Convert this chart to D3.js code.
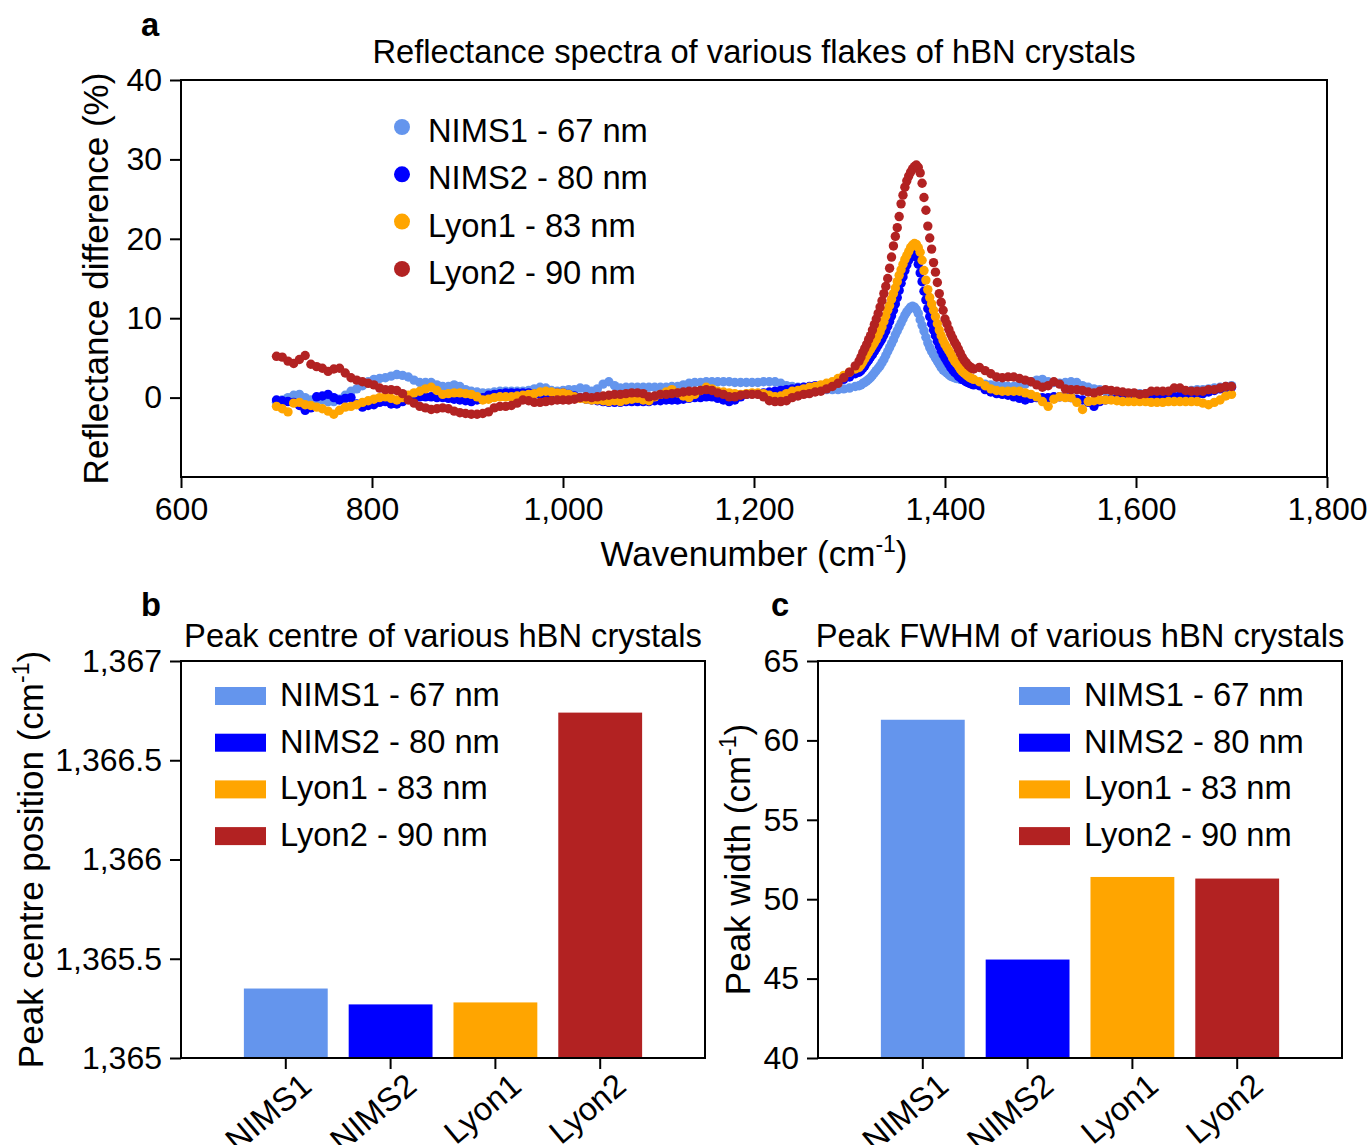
<!DOCTYPE html>
<html><head><meta charset="utf-8">
<script src="https://cdn.jsdelivr.net/npm/d3@7"></script>
<style>
body{margin:0;background:#fff}
svg{display:block}
</style></head><body>
<svg id="chart" width="1370" height="1145"></svg>
<script>
// ---------------- data ----------------
const sampleNames = ["NIMS1", "NIMS2", "Lyon1", "Lyon2"];
const legendLabels = ["NIMS1 - 67 nm", "NIMS2 - 80 nm", "Lyon1 - 83 nm", "Lyon2 - 90 nm"];
const sampleColors = ["#6495ED", "#0000FF", "#FFA500", "#B22222"];
const peakCentre = [1365.35, 1365.27, 1365.28, 1366.74];
const peakFwhm = [61.3, 46.2, 51.4, 51.3];
const spectrumXTicks = [600, 800, 1000, 1200, 1400, 1600, 1800];
const spectrumYTicks = [0, 10, 20, 30, 40];
const centreTicks = [1365, 1365.5, 1366, 1366.5, 1367];
const fwhmTicks = [40, 45, 50, 55, 60, 65];

// sampling grid of the spectra (cm^-1): 700-1306 every 6, 1310-1430 every 2, 1436-1700 every 6
const wavenumbers = [...d3.range(700, 1307, 6), ...d3.range(1310, 1431, 2), ...d3.range(1436, 1701, 6)];

// reflectance difference (%)
const nims1Base = [
-0.6,-0.3,0.0,0.3,0.4,0.0,-0.3,-0.2,-0.3,-0.5,
-0.5,-0.2,0.3,0.8,1.1,1.5,2.0,2.3,2.4,2.5,
2.7,2.9,2.8,2.6,2.2,1.9,1.9,1.9,1.6,1.4,
1.4,1.6,1.4,1.0,0.8,0.7,0.6,0.6,0.7,0.8,
0.8,0.8,0.8,0.8,0.9,1.1,1.3,1.2,0.9,0.8,
0.9,1.0,1.0,1.2,1.1,0.8,1.1,1.7,2.0,1.5,
1.2,1.3,1.3,1.3,1.3,1.3,1.3,1.3,1.3,1.4,
1.4,1.6,1.8,1.9,1.9,2.0,2.0,2.0,2.0,2.0,
1.9,1.9,1.9,1.9,1.9,2.0,2.0,2.0,1.8,1.5,
1.4,1.3,1.3,1.2,1.1,1.0,1.0,1.0,1.0,1.1,
1.2,1.4];
const nims1Peak = [
1.5,1.6,1.8,1.9,2.1,2.3,2.5,2.8,3.1,3.4,
3.7,4.0,4.4,4.8,5.3,5.8,6.3,6.8,7.3,7.9,
8.4,8.9,9.4,9.9,10.4,10.8,11.1,11.4,11.5,11.4,
11.1,10.6,9.8,9.1,8.4,7.6,6.9,6.3,5.8,5.4,
5.0,4.6,4.2,3.8,3.5,3.3,3.1,2.9,2.7,2.6,
2.5,2.4,2.4,2.3,2.3,2.2,2.1,2.0,2.0,1.9,
1.9];
const nims1Tail = [
1.8,1.7,1.6,1.5,1.5,1.4,1.4,1.5,1.7,2.0,
2.2,2.3,2.0,1.9,1.8,1.9,2.0,1.9,1.5,1.3,
1.1,1.0,0.8,0.7,0.6,0.6,0.5,0.5,0.5,0.5,
0.6,0.6,0.6,0.7,0.7,0.7,0.8,0.9,1.0,1.0,
1.1,1.2,1.3,1.4,1.5];

const nims2Base = [
-0.3,-0.4,-0.5,-0.6,-1.0,-1.6,-1.3,0.1,0.2,0.4,
0.0,-0.3,-0.1,0.0,-0.8,-1.2,-1.0,-0.9,-0.6,-0.5,
-0.8,-0.8,-0.5,-0.1,0.0,0.1,0.1,0.1,0.0,0.0,
-0.1,-0.2,-0.3,-0.4,-0.5,-0.3,0.0,0.3,0.4,0.5,
0.6,0.6,0.6,0.6,0.6,0.5,0.4,0.4,0.5,0.6,
0.6,0.4,0.2,0.0,-0.2,-0.3,-0.4,-0.5,-0.6,-0.6,
-0.6,-0.5,-0.5,-0.5,-0.5,-0.5,-0.4,-0.4,-0.3,-0.3,
-0.3,-0.2,-0.1,0.0,0.0,0.1,0.1,-0.1,-0.3,-0.5,
-0.3,0.1,0.4,0.5,0.5,0.6,0.7,0.8,0.9,1.0,
1.1,1.2,1.3,1.4,1.5,1.5,1.6,1.8,2.0,2.3,
2.6,3.0];
const nims2Peak = [
3.2,3.4,3.7,4.0,4.4,4.7,5.1,5.4,5.8,6.2,
6.6,7.0,7.4,7.9,8.4,9.0,9.6,10.3,11.0,11.8,
12.6,13.5,14.4,15.2,16.0,16.7,17.3,17.8,18.1,18.2,
17.7,16.8,15.7,14.6,13.4,12.3,11.2,10.2,9.3,8.5,
7.8,7.1,6.5,5.9,5.4,5.0,4.6,4.2,3.8,3.5,
3.2,3.0,2.7,2.5,2.3,2.2,2.0,1.9,1.8,1.7,
1.6];
const nims2Tail = [
1.5,1.0,0.7,0.5,0.4,0.3,0.1,-0.1,-0.3,-0.1,
0.0,0.0,0.0,0.1,0.1,0.1,0.0,-0.2,-0.3,-0.6,
-1.1,-0.5,-0.3,-0.2,-0.1,0.0,0.0,0.1,0.1,0.1,
0.1,0.1,0.1,0.1,0.1,0.2,0.2,0.3,0.4,0.5,
0.7,0.9,1.1,1.2,1.3];

const lyon1Base = [
-1.1,-1.4,-1.8,-0.7,-0.6,-0.9,-1.0,-1.2,-1.4,-1.7,
-2.1,-1.6,-1.2,-1.1,-0.9,-0.6,-0.4,-0.2,0.0,0.1,
-0.1,-0.3,0.0,0.3,0.6,0.8,1.1,1.3,0.9,0.4,
0.5,0.6,0.6,0.5,0.4,0.1,-0.3,-0.2,0.0,0.1,
0.1,0.1,0.2,0.3,0.4,0.5,0.7,0.8,0.7,0.6,
0.6,0.4,0.1,-0.1,-0.2,-0.3,-0.3,-0.4,-0.5,-0.4,
-0.5,-0.3,-0.2,-0.1,-0.3,-0.4,0.1,0.4,0.7,1.0,
0.6,0.2,0.0,0.4,0.9,1.3,1.1,0.8,0.7,0.6,
0.5,0.4,0.5,0.6,0.6,0.5,0.3,0.1,0.2,0.5,
0.8,0.9,1.1,1.3,1.4,1.6,1.8,2.0,2.4,2.8,
3.2,3.6];
const lyon1Peak = [
3.8,4.1,4.5,4.9,5.3,5.7,6.1,6.5,6.9,7.3,
7.8,8.3,8.9,9.6,10.3,11.0,11.6,12.4,13.1,13.8,
14.6,15.4,16.1,16.8,17.4,17.9,18.4,18.9,19.2,19.4,
19.3,18.9,18.3,17.3,16.0,14.8,13.6,12.6,11.8,11.0,
10.2,9.3,8.5,7.8,7.2,6.7,6.3,5.9,5.5,5.0,
4.6,4.3,4.0,3.6,3.3,3.1,2.9,2.7,2.5,2.4,
2.3];
const lyon1Tail = [
2.0,1.5,1.1,0.9,0.8,0.8,0.8,0.8,0.6,0.4,
0.1,-0.5,-1.1,-0.2,0.1,0.0,0.0,-0.6,-1.5,-0.5,
-0.4,-0.3,-0.3,-0.3,-0.4,-0.5,-0.5,-0.5,-0.5,-0.5,
-0.6,-0.6,-0.6,-0.5,-0.5,-0.5,-0.5,-0.5,-0.5,-0.7,
-0.9,-0.6,-0.3,0.2,0.4];

const lyon2Base = [
5.2,5.1,4.6,4.3,4.8,5.3,4.2,3.9,3.7,3.3,
3.6,3.7,3.1,2.5,2.2,2.0,1.8,1.6,1.2,1.0,
1.0,0.9,0.5,-0.3,-0.7,-1.1,-1.3,-1.5,-1.4,-1.3,
-1.4,-1.7,-1.9,-2.0,-2.1,-2.1,-2.0,-1.8,-1.3,-1.1,
-1.1,-1.0,-0.7,-0.3,-0.4,-0.6,-0.6,-0.5,-0.4,-0.3,
-0.3,-0.3,-0.2,0.0,0.1,0.0,0.1,0.2,0.3,0.4,
0.4,0.5,0.6,0.6,0.5,0.1,0.2,0.4,0.4,0.5,
0.6,0.7,0.8,0.8,0.9,1.0,0.9,0.6,0.4,0.1,
0.1,0.3,0.4,0.4,0.4,0.1,-0.4,-0.5,-0.5,-0.4,
0.0,0.2,0.4,0.5,0.7,0.8,1.1,1.4,1.8,2.5,
3.2,4.0];
const lyon2Peak = [
4.6,5.1,5.7,6.2,6.7,7.3,7.8,8.5,9.2,9.9,
10.6,11.4,12.2,13.1,14.0,15.0,16.3,17.7,19.1,20.3,
21.4,22.8,24.4,25.5,26.5,27.3,27.9,28.4,28.8,29.1,
29.3,29.0,28.3,27.0,25.2,23.6,21.6,20.1,18.7,17.0,
15.8,14.5,13.1,12.0,11.0,9.9,9.3,8.6,8.0,7.5,
7.0,6.6,6.1,5.6,5.1,4.7,4.4,4.1,3.9,3.7,
3.6];
const lyon2Tail = [
3.8,3.4,3.0,2.6,2.5,2.6,2.6,2.4,2.2,2.0,
1.6,1.3,1.5,2.0,1.7,1.1,1.0,1.0,0.9,0.7,
0.6,0.8,1.0,0.9,0.8,0.7,0.6,0.6,0.4,0.5,
0.8,0.8,0.8,0.8,1.2,1.2,0.9,0.8,0.8,0.8,
1.0,1.0,1.2,1.4,1.4];

const spectraValues = [
  [...nims1Base, ...nims1Peak, ...nims1Tail],
  [...nims2Base, ...nims2Peak, ...nims2Tail],
  [...lyon1Base, ...lyon1Peak, ...lyon1Tail],
  [...lyon2Base, ...lyon2Peak, ...lyon2Tail]
];

// ---------------- drawing ----------------
const FAMILY = "'Liberation Sans', Arial, Helvetica, sans-serif";
const FS = 32;      // tick labels
const FS_T = 32.7;  // titles and legends
const FS_L = 35;    // axis titles
const svg = d3.select("#chart").attr("font-family", FAMILY);

function frame(x0, y0, x1, y1) {
  svg.append("rect").attr("x", x0).attr("y", y0).attr("width", x1 - x0).attr("height", y1 - y0)
    .attr("fill", "none").attr("stroke", "#000").attr("stroke-width", 2);
}
function styleAxis(g) {
  g.attr("font-family", FAMILY).attr("font-size", FS);
  g.select(".domain").remove();
  g.selectAll(".tick line").attr("stroke", "#000").attr("stroke-width", 2);
  g.selectAll(".tick text").attr("fill", "#000");
}
function text(x, y, str, opts = {}) {
  return svg.append("text").attr("x", x).attr("y", y).attr("font-size", opts.size || FS_T)
    .attr("font-weight", opts.weight || "normal").attr("text-anchor", opts.anchor || "middle")
    .attr("fill", "#000").text(str);
}
function supLabel(tx, ty, rot, pre) {
  const t = svg.append("text").attr("transform", `translate(${tx},${ty}) rotate(${rot})`)
    .attr("text-anchor", "middle").attr("font-size", FS_L).attr("fill", "#000");
  t.append("tspan").text(pre + " (cm");
  t.append("tspan").attr("font-size", 23).attr("dy", -14).text("-1");
  t.append("tspan").attr("font-size", FS_L).attr("dy", 14).text(")");
  return t;
}

// ----- panel a -----
const A = {x0: 181, x1: 1327, y0: 80, y1: 477};
const xA = d3.scaleLinear().domain([600, 1800]).range([A.x0, A.x1]);
const yA = d3.scaleLinear().domain([-10, 40]).range([A.y1, A.y0]);

const plotA = svg.append("g");
spectraValues.forEach((vals, i) => {
  const pts = wavenumbers.map((w, j) => ({w, v: vals[j]}));
  plotA.append("g").selectAll("circle").data(pts).join("circle")
    .attr("cx", d => xA(d.w)).attr("cy", d => yA(d.v)).attr("r", 4.7)
    .attr("fill", sampleColors[i]);
});

svg.append("g").attr("transform", `translate(0,${A.y1})`)
  .call(d3.axisBottom(xA).tickValues(spectrumXTicks).tickFormat(d3.format(",")).tickSize(11).tickPadding(9))
  .call(styleAxis);
svg.append("g").attr("transform", `translate(${A.x0},0)`)
  .call(d3.axisLeft(yA).tickValues(spectrumYTicks).tickFormat(d3.format(",")).tickSize(11).tickPadding(8))
  .call(styleAxis);
frame(A.x0, A.y0, A.x1, A.y1);

text((A.x0 + A.x1) / 2, 63, "Reflectance spectra of various flakes of hBN crystals");
text(141, 36, "a", {anchor: "start", weight: "bold"});
supLabel((A.x0 + A.x1) / 2, 566, 0, "Wavenumber");
svg.append("text").attr("transform", `translate(108,${(A.y0 + A.y1) / 2}) rotate(-90)`)
  .attr("text-anchor", "middle").attr("font-size", FS_L).attr("fill", "#000")
  .text("Reflectance difference (%)");

// legend a
legendLabels.forEach((lab, i) => {
  const cy = 127 + i * 47.3;
  svg.append("circle").attr("cx", 402).attr("cy", cy).attr("r", 8).attr("fill", sampleColors[i]);
  text(428, cy + 15, lab, {anchor: "start"});
});

// ----- bar panels -----
function barPanel(P, domain, ticks, values, title, letter, letterX, ylabel, ylabelX, legendX) {
  const x = d3.scaleBand().domain(sampleNames).range([P.x0, P.x1]).paddingInner(0.2).paddingOuter(0.6);
  const y = d3.scaleLinear().domain(domain).range([P.y1, P.y0]);
  svg.append("g").selectAll("rect").data(sampleNames).join("rect")
    .attr("x", d => x(d)).attr("width", x.bandwidth())
    .attr("y", (d, i) => y(values[i])).attr("height", (d, i) => y(domain[0]) - y(values[i]))
    .attr("fill", (d, i) => sampleColors[i]);
  svg.append("g").attr("transform", `translate(0,${P.y1})`)
    .call(d3.axisBottom(x).tickSize(11))
    .call(styleAxis)
    .call(g => g.selectAll(".tick text").attr("x", 0).attr("y", 0).attr("dy", 0)
      .attr("font-size", FS_T)
      .attr("text-anchor", "end").attr("transform", "translate(28,31) rotate(-40)"));
  svg.append("g").attr("transform", `translate(${P.x0},0)`)
    .call(d3.axisLeft(y).tickValues(ticks).tickFormat(d3.format(",")).tickSize(11).tickPadding(8))
    .call(styleAxis);
  frame(P.x0, P.y0, P.x1, P.y1);
  text((P.x0 + P.x1) / 2, 647, title);
  text(letterX, 616, letter, {anchor: "start", weight: "bold"});
  supLabel(ylabelX, (P.y0 + P.y1) / 2, -90, ylabel);
  legendLabels.forEach((lab, i) => {
    const cy = 696 + i * 46.7;
    svg.append("rect").attr("x", legendX).attr("y", cy - 9).attr("width", 51).attr("height", 18)
      .attr("fill", sampleColors[i]);
    text(legendX + 65, cy + 10, lab, {anchor: "start"});
  });
}

barPanel({x0: 181, x1: 705, y0: 661, y1: 1058}, [1365, 1367], centreTicks, peakCentre,
  "Peak centre of various hBN crystals", "b", 141, "Peak centre position", 43, 215);
barPanel({x0: 818, x1: 1342, y0: 661, y1: 1058}, [40, 65], fwhmTicks, peakFwhm,
  "Peak FWHM of various hBN crystals", "c", 771, "Peak width", 750, 1019);
</script>
</body></html>
